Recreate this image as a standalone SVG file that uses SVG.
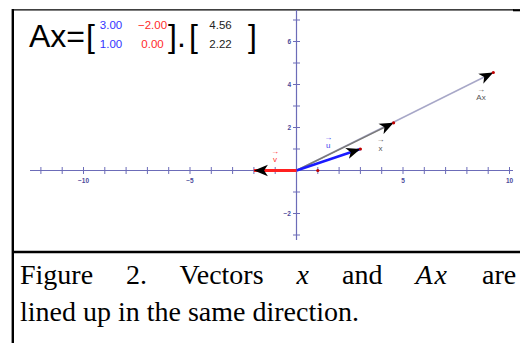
<svg xmlns="http://www.w3.org/2000/svg" width="520" height="343" viewBox="0 0 520 343">
<style>
.frame{stroke:#000;fill:none}
.axis{stroke:#6c6cb8;stroke-width:1.2;fill:none}
.tick{stroke:#6c6cb8;stroke-width:1;fill:none}
.axl{font-family:"Liberation Sans",Arial,sans-serif;font-size:6.5px;font-weight:bold;fill:#4a4a9a}
.eq{font-family:"Liberation Sans",Arial,sans-serif;font-size:32px;fill:#000}
.m{font-family:"Liberation Sans",Arial,sans-serif;font-size:11.5px;text-anchor:middle}
.lbl{font-family:"Liberation Sans",Arial,sans-serif;font-size:8px;text-anchor:middle}
.arr{font-family:"Liberation Sans",Arial,sans-serif;font-size:8px;text-anchor:middle}
.cap{font-family:"Liberation Serif","Times New Roman",serif;font-size:28px;fill:#000}
.pt{fill:#c00000}
</style>
<defs>
<marker id="ah" markerUnits="userSpaceOnUse" markerWidth="16" markerHeight="13" refX="14" refY="6.5" orient="auto">
<path d="M14,6.5 L0,0.8 L3.8,6.5 L0,12.2 Z" fill="#000"/>
</marker>
</defs>
<rect width="520" height="343" fill="#fff"/>
<g id="frame">
<line class="frame" x1="12" y1="9.8" x2="514" y2="9.8" stroke-width="1.3"/>
<line class="frame" x1="513" y1="10.2" x2="520" y2="10.2" stroke-width="2.2"/>
<line class="frame" x1="12.8" y1="9" x2="12.8" y2="343" stroke-width="2.4"/>
<line class="frame" x1="12" y1="252" x2="520" y2="252" stroke-width="2.4"/>
</g>
<g id="axes">
<line class="axis" x1="30" y1="170.5" x2="513" y2="170.5"/>
<line class="axis" x1="296.5" y1="10" x2="296.5" y2="240"/>
<path class="tick" d="M40.9,167v7M62.2,167v7M83.5,167v7M104.8,167v7M126.1,167v7M147.4,167v7M168.7,167v7M190,167v7M211.3,167v7M232.6,167v7M253.9,167v7M275.2,167v7M317.8,167v7M339.1,167v7M360.4,167v7M381.7,167v7M403,167v7M424.3,167v7M445.6,167v7M466.9,167v7M488.2,167v7M509.5,167v7"/>
<path class="tick" d="M293,20h7M293,41.5h7M293,63h7M293,84.5h7M293,106h7M293,127.5h7M293,149h7M293,192h7M293,213.5h7M293,235h7"/>
<g class="axl" text-anchor="middle">
<text x="83.5" y="183">−10</text>
<text x="190" y="183">−5</text>
<text x="403" y="183">5</text>
<text x="509.5" y="183">10</text>
</g>
<g class="axl" text-anchor="end">
<text x="291" y="43.8">6</text>
<text x="291" y="86.8">4</text>
<text x="291" y="129.8">2</text>
<text x="291" y="215.8">−2</text>
</g>
</g>
<g id="connectors">
<line id="vec-Ax" x1="296.5" y1="170.5" x2="493.3" y2="72.5" stroke="#a8a8c8" stroke-width="1.5" marker-end="url(#ah)"/>
<line id="vec-x" x1="296.5" y1="170.5" x2="393.6" y2="122.8" stroke="#7a7a7a" stroke-width="1.5" marker-end="url(#ah)"/>
<line id="vec-u" x1="296.5" y1="170.5" x2="360.4" y2="149" stroke="#1a1aff" stroke-width="2.5" marker-end="url(#ah)"/>
<line id="vec-v" x1="296.5" y1="170.5" x2="253.9" y2="170.5" stroke="#ff2020" stroke-width="3" marker-end="url(#ah)"/>
</g>
<g id="points">
<circle class="pt" cx="493.3" cy="72.5" r="1.6"/>
<circle class="pt" cx="393.6" cy="122.8" r="1.6"/>
<circle class="pt" cx="360.4" cy="149" r="1.6"/>
<circle class="pt" cx="317.8" cy="170.5" r="1.6"/>
</g>
<g id="label-Ax">
<text class="arr" x="481" y="92" fill="#555">→</text>
<text class="lbl" x="481" y="100" fill="#555">Ax</text>
</g>
<g id="label-x">
<text class="arr" x="380.5" y="142" fill="#555">→</text>
<text class="lbl" x="380.5" y="151" fill="#555">x</text>
</g>
<g id="label-u">
<text class="arr" x="328.3" y="139.5" fill="#4444ee">→</text>
<text class="lbl" x="328.3" y="148" fill="#4444ee">u</text>
</g>
<g id="label-v">
<text class="arr" x="275" y="154" fill="#ff3030">→</text>
<text class="lbl" x="275" y="161.5" fill="#ff3030">v</text>
</g>
<g id="equation">
<text class="eq" x="29" y="47">Ax=</text>
<text class="eq" x="86" y="47">[</text>
<text class="m" x="111" y="28.5" fill="#3333ff">3.00</text>
<text class="m" x="111" y="47.5" fill="#3333ff">1.00</text>
<text class="m" x="152.5" y="28.5" fill="#ff2a2a">−2.00</text>
<text class="m" x="152.5" y="47.5" fill="#ff2a2a">0.00</text>
<text class="eq" x="168" y="47">].</text>
<text class="eq" x="189" y="47">[</text>
<text class="m" x="220.5" y="28.5" fill="#222">4.56</text>
<text class="m" x="220.5" y="47.5" fill="#222">2.22</text>
<text class="eq" x="248" y="47">]</text>
</g>
<g id="caption">
<text class="cap" x="20" y="284" word-spacing="26">Figure 2. Vectors <tspan font-style="italic">x</tspan> and <tspan font-style="italic" letter-spacing="2">Ax</tspan> are</text>
<text class="cap" x="20" y="321">lined up in the same direction.</text>
</g>
</svg>
